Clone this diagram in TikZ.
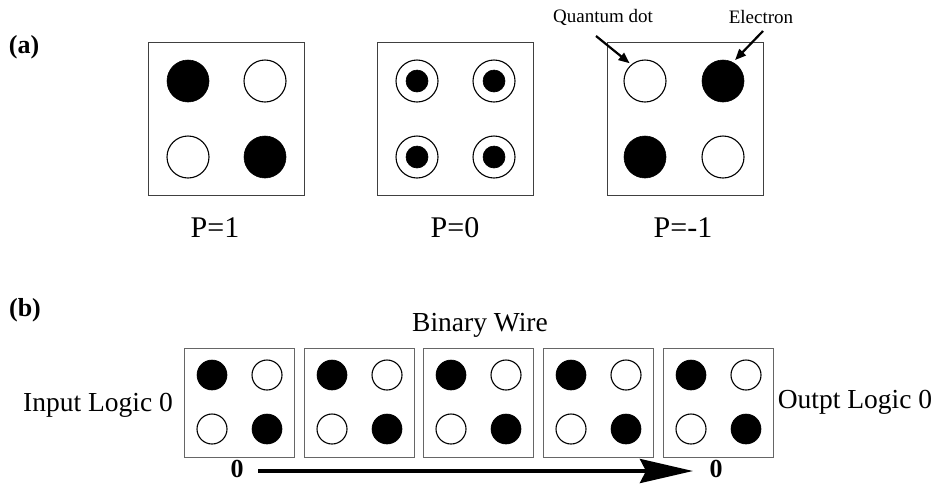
\documentclass[tikz,border=0pt]{standalone}
\usepackage{fontspec}
\setmainfont{Liberation Serif}
\usetikzlibrary{arrows.meta}
\begin{document}
\begin{tikzpicture}[x=1pt,y=-1pt,
  bigbox/.style={draw=black!75,line width=1.4pt,minimum width=156pt,minimum height=153pt,inner sep=0pt,anchor=north west},
  smallbox/.style={draw=black!60,line width=1pt,minimum width=110pt,minimum height=109pt,inner sep=0pt,anchor=north west},
  qfull/.style={circle,fill=black,draw=black,line width=0.6pt,minimum size=#1,inner sep=0pt},
  qopen/.style={circle,draw=black,line width=1.1pt,fill=white,minimum size=#1,inner sep=0pt},
  plabel/.style={font=\fontsize{30}{34}\selectfont,inner sep=0pt},
  txt/.style={font=\fontsize{27.5}{31}\selectfont,inner sep=0pt},
  smalltxt/.style={font=\fontsize{19}{22}\selectfont,inner sep=0pt},
  partlabel/.style={font=\fontsize{26}{30}\selectfont\bfseries,inner sep=0pt},
  pointer/.style={line width=2.2pt,-{Triangle[length=11pt,width=9pt]}},
]
\useasboundingbox (0,0) rectangle (936,483);

% ---------- (a) ----------
\node[partlabel] (la) at (24,47) {(a)};

\node[bigbox] (A1) at (148,42) {};
\node[bigbox] (A2) at (377,42) {};
\node[bigbox] (A3) at (607,42) {};

% P=1
\node[qfull=42pt] (a1tl) at (188,81) {};
\node[qopen=42pt] (a1tr) at (265,81) {};
\node[qopen=42pt] (a1bl) at (188,157) {};
\node[qfull=42pt] (a1br) at (265,157) {};

% P=0
\foreach \cx/\cy/\nm in {417/81/tl,494/81/tr,417/157/bl,494/157/br}{
  \node[qopen=42pt] (a2\nm) at (\cx,\cy) {};
  \node[qfull=22pt] (a2\nm c) at (\cx,\cy) {};
}

% P=-1
\node[qopen=42pt] (a3tl) at (645,81) {};
\node[qfull=42pt] (a3tr) at (723,81) {};
\node[qfull=42pt] (a3bl) at (645,157) {};
\node[qopen=42pt] (a3br) at (723,157) {};

\node[plabel] (p1) at (215,228) {P=1};
\node[plabel] (p0) at (455,228) {P=0};
\node[plabel] (pm1) at (683,228) {P=-1};

\node[smalltxt] (qdot) at (603,17) {Quantum dot};
\node[smalltxt] (elec) at (761,17) {Electron};
\coordinate (qstart) at (596,36);
\coordinate (estart) at (763,31);
\draw[pointer,shorten >=2pt] (qstart) -- (a3tl.130);
\draw[pointer,shorten >=3pt] (estart) -- (a3tr.62);

% ---------- (b) ----------
\node[partlabel] (lb) at (25,310) {(b)};
\node[txt] (bw) at (480,325) {Binary Wire};

\foreach \i/\bx in {1/184,2/304,3/423,4/543,5/663}{
  \node[smallbox] (B\i) at (\bx,348) {};
  \node[qfull=30pt] (b\i tl) at (\bx+28,375) {};
  \node[qopen=30pt] (b\i tr) at (\bx+83,375) {};
  \node[qopen=30pt] (b\i bl) at (\bx+28,429) {};
  \node[qfull=30pt] (b\i br) at (\bx+83,429) {};
}

\node[txt] (inp) at (98,405) {Input Logic 0};
\node[txt] (outp) at (855,402) {Outpt Logic 0};

\node[partlabel] (z1) at (237,469) {0};
\node[partlabel] (z2) at (716,469) {0};
\coordinate (arrS) at (258,471);
\coordinate (arrE) at (693,471);
\draw[line width=4pt,-{Stealth[length=53pt,width=24pt,inset=6pt]}] (arrS) -- (arrE);
\end{tikzpicture}
\end{document}
